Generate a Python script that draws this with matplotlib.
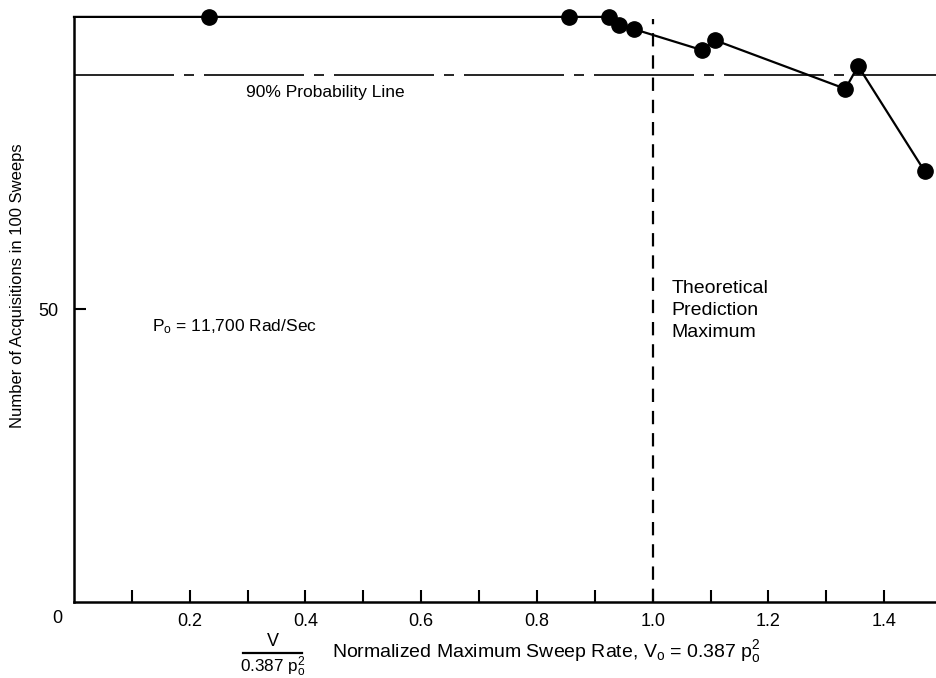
import matplotlib
matplotlib.use("Agg")
import matplotlib.pyplot as plt
from matplotlib.lines import Line2D

plt.rcParams['font.family'] = ['Liberation Sans', 'DejaVu Sans']
plt.rcParams['mathtext.default'] = 'regular'

# data
sweep_rate = [0.0, 0.233, 0.856, 0.924, 0.941, 0.968, 1.086, 1.108, 1.333, 1.355, 1.470]
acquisitions = [100, 100, 100, 100, 98.7, 97.9, 94.3, 96.0, 87.7, 91.6, 73.6]
prob_line = 90
theory_max = 1.0
x_ticks = [0.1, 0.2, 0.3, 0.4, 0.5, 0.6, 0.7, 0.8, 0.9, 1.0, 1.1, 1.2, 1.3, 1.4]
x_ticklabels = ['', '0.2', '', '0.4', '', '0.6', '', '0.8', '', '1.0', '', '1.2', '', '1.4']
y_ticks = [50]

fig = plt.figure(figsize=(9.36, 6.78), dpi=100)
ax = fig.add_axes([74 / 936, 1 - 601.7 / 678, 1 - 74 / 936, (601.7 - 16.9) / 678])

ax.plot(sweep_rate, acquisitions, color='black', lw=1.6, marker='o', ms=11,
        markevery=list(range(1, len(sweep_rate))), clip_on=False, zorder=5)

# 90% line, long-short dash
ax.axhline(prob_line, color='black', lw=1.2, dashes=(60, 6, 6, 6))
# theoretical maximum
ax.axvline(theory_max, ymin=0, ymax=0.996, color='black', lw=1.6, dashes=(6, 4))

ax.set_xlim(0, 1.4896)
ax.set_ylim(0, 100)

for s in ['top', 'right']:
    ax.spines[s].set_visible(False)
for s in ['left', 'bottom']:
    ax.spines[s].set_linewidth(1.8)

ax.set_xticks(x_ticks)
ax.set_xticklabels(x_ticklabels)
ax.set_yticks(y_ticks)
ax.tick_params(direction='in', length=8.5, width=1.5, labelsize=13)
ax.tick_params(axis='x', pad=8)
ax.tick_params(axis='y', pad=11)

ax.annotate('0', xy=(0, 0), xytext=(-17, -17), textcoords='offset pixels',
            ha='center', va='center', fontsize=13)

ax.text(0.434, 87.1, '90% Probability Line', ha='center', va='center', fontsize=12.5)
ax.text(0.134, 47.1, 'P$_o$ = 11,700 Rad/Sec', ha='left', va='center', fontsize=12.5)
ax.text(1.032, 55.0, 'Theoretical\nPrediction\nMaximum', ha='left', va='top',
        fontsize=14, linespacing=1.4)

# axis labels
fig.text(18 / 936, 1 - 286 / 678, 'Number of Acquisitions in 100 Sweeps',
         rotation=90, ha='center', va='center', fontsize=12)
fig.text(272.5 / 936, 1 - 641 / 678, 'V', ha='center', va='center', fontsize=13)
fig.text(272.5 / 936, 1 - 667 / 678, '0.387 p$_o^2$', ha='center', va='center', fontsize=12.3)
fig.add_artist(Line2D([243 / 936, 302 / 936], [1 - 653 / 678, 1 - 653 / 678],
                      color='black', lw=1.6, transform=fig.transFigure))
fig.text(331.7 / 936, 1 - 652 / 678,
         'Normalized Maximum Sweep Rate, V$_o$ = 0.387 p$_o^2$',
         ha='left', va='center', fontsize=14)

fig.savefig('out.png', dpi=100)
